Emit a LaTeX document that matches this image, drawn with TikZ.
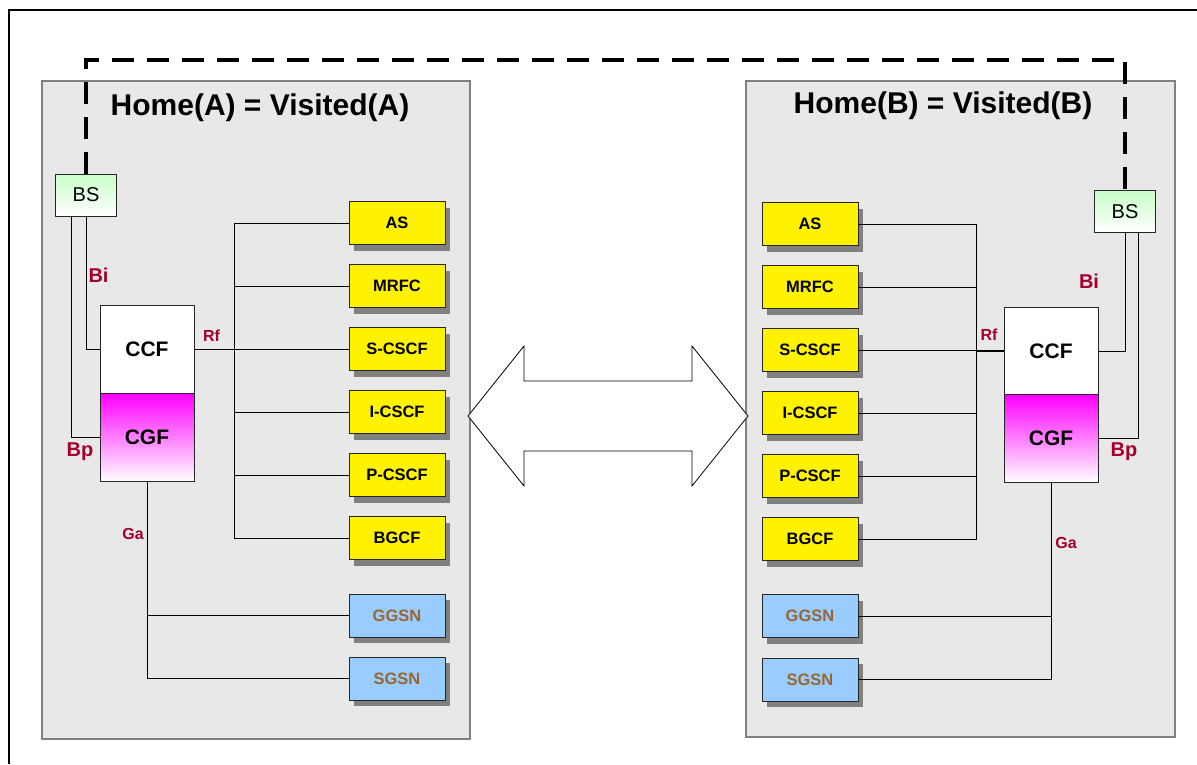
\documentclass[tikz,border=0pt]{standalone}
\usepackage{fontspec}
\setmainfont{Liberation Sans}
\usetikzlibrary{shadows}

\definecolor{panelgray}{RGB}{232,232,232}
\definecolor{shadowgray}{RGB}{128,128,128}
\definecolor{gprsblue}{RGB}{153,204,255}
\definecolor{gprsbrown}{RGB}{153,102,51}
\definecolor{ifred}{RGB}{165,0,45}
\definecolor{bsgreen}{RGB}{200,255,200}

\tikzset{
  panel/.style={draw=shadowgray, fill=panelgray, line width=1.2pt},
  fnbox/.style={draw=black!85, line width=0.8pt, fill=yellow, minimum width=96pt,
    minimum height=43pt, inner sep=0pt, font=\fontsize{16.5}{18}\selectfont\bfseries,
    drop shadow={shadow xshift=4.5pt, shadow yshift=-6pt, fill=shadowgray, opacity=1}},
  gprsbox/.style={fnbox, fill=gprsblue, text=gprsbrown},
  bsbox/.style={draw=black!85, line width=0.8pt, top color=bsgreen, bottom color=white,
    minimum width=61pt, minimum height=42pt, inner sep=0pt, font=\fontsize{20}{22}\selectfont},
  chgbox/.style={draw=black!85, line width=0.9pt, minimum width=94pt, minimum height=88pt,
    inner sep=0pt, font=\fontsize{21}{23}\selectfont\bfseries},
  iflabel/.style={text=ifred, inner sep=0pt, font=\fontsize{#1}{#1}\selectfont\bfseries},
  iflabel/.default=16,
  title/.style={inner sep=0pt, font=\fontsize{30}{32}\selectfont\bfseries},
  wire/.style={line width=0.8pt}
}

\begin{document}
\begin{tikzpicture}[x=1pt,y=-1pt]
\useasboundingbox (0,0) rectangle (1197,764);

% outer frame and the two networks
\draw[line width=2.3pt] (9,764) |- (1197,10);
\draw[panel] (42,81) rectangle (470,739);
\draw[panel] (746,81) rectangle (1175,737);

\node[title] (titleA) at (260,108) {Home(A) = Visited(A)};
\node[title] (titleB) at (943,106) {Home(B) = Visited(B)};

% network A
\node[bsbox] (bsA) at (86,195) {BS};
\node[chgbox, fill=white] (ccfA) at (147,349.5) {CCF};
\node[chgbox, top color=magenta, bottom color=white] (cgfA) at (147,437.5) {CGF};
\foreach \nm/\txt [count=\i] in {asA/AS, mrfcA/MRFC, scscfA/S-CSCF, icscfA/I-CSCF, pcscfA/P-CSCF, bgcfA/BGCF}
  \node[fnbox] (\nm) at (397,160+63*\i) {\txt};
\node[gprsbox] (ggsnA) at (397,615.5) {GGSN};
\node[gprsbox] (sgsnA) at (397,678.5) {SGSN};
\coordinate (rfA) at (234,349.5);

\draw[wire] (bsA.south) |- (ccfA.west);
\draw[wire] ([xshift=-15pt]bsA.south) |- (cgfA.west);
\draw[line width=1.4pt] (ccfA.east) -- (rfA);
\foreach \nm in {asA, mrfcA, scscfA, icscfA, pcscfA, bgcfA}
  \draw[wire] (\nm.west) -| (rfA);
\foreach \nm in {ggsnA, sgsnA}
  \draw[wire] (\nm.west) -| (cgfA.south);

\node[iflabel=20] (biA) at (98.5,275.5) {Bi};
\node[iflabel=20] (bpA) at (80,452) {Bp};
\node[iflabel] (rfLabelA) at (211.5,335.5) {Rf};
\node[iflabel] (gaA) at (133,534) {Ga};

% network B
\node[bsbox] (bsB) at (1125,211.5) {BS};
\node[chgbox, fill=white] (ccfB) at (1051,351) {CCF};
\node[chgbox, top color=magenta, bottom color=white] (cgfB) at (1051,438.5) {CGF};
\foreach \nm/\txt [count=\i] in {asB/AS, mrfcB/MRFC, scscfB/S-CSCF, icscfB/I-CSCF, pcscfB/P-CSCF, bgcfB/BGCF}
  \node[fnbox] (\nm) at (810,161+63*\i) {\txt};
\node[gprsbox] (ggsnB) at (810,616) {GGSN};
\node[gprsbox] (sgsnB) at (810,679.5) {SGSN};
\coordinate (rfB) at (976,351);

\draw[wire] (bsB.south) |- (ccfB.east);
\draw[wire] ([xshift=13pt]bsB.south) |- (cgfB.east);
\draw[line width=1.4pt] (ccfB.west) -- (rfB);
\foreach \nm in {asB, mrfcB, scscfB, icscfB, pcscfB, bgcfB}
  \draw[wire] (\nm.east) -| (rfB);
\foreach \nm in {ggsnB, sgsnB}
  \draw[wire] (\nm.east) -| (cgfB.south);

\node[iflabel=20] (biB) at (1089,281) {Bi};
\node[iflabel=20] (bpB) at (1124,451.5) {Bp};
\node[iflabel] (rfLabelB) at (989,335) {Rf};
\node[iflabel] (gaB) at (1066,543) {Ga};

% link between the two BS
\coordinate (topA) at (86,60);
\coordinate (topB) at (1125,60);
\draw[line width=4pt, dash pattern=on 22pt off 13pt] (bsA.north) -- (topA) -- (topB) -- (bsB.north);

% roaming arrow
\draw[fill=white, line width=0.8pt] (468,416) -- (524,346) -- (524,381) -- (692,381) -- (692,346)
  -- (748,416) -- (692,486) -- (692,451) -- (524,451) -- (524,486) -- cycle;
\end{tikzpicture}
\end{document}
